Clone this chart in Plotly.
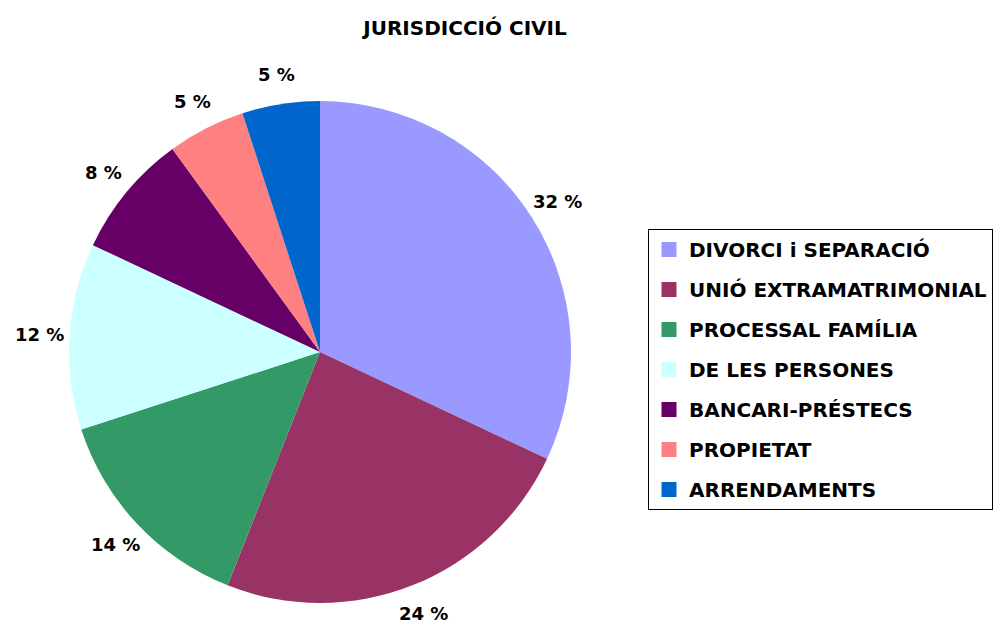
import math
import plotly.graph_objects as go

categories = ["DIVORCI i SEPARACIÓ", "UNIÓ EXTRAMATRIMONIAL", "PROCESSAL FAMÍLIA",
              "DE LES PERSONES", "BANCARI-PRÉSTECS", "PROPIETAT", "ARRENDAMENTS"]
values = [32, 24, 14, 12, 8, 5, 5]
colors = ["#9999FF", "#993366", "#339966", "#CCFFFF", "#660066", "#FF8080", "#0066CC"]
title_text = "JURISDICCIÓ CIVIL"

# the page shows the figure with an 8px body margin, so work in figure pixels
OFF = 8
W, H = 1005 - OFF, 626 - OFF
FONT = "DejaVu Sans"
LEG_SIZE = 20


def fx(px):
    return (px - OFF) / W


def fy(py):
    return 1 - (py - OFF) / H


fig = go.Figure()
fig.add_trace(go.Pie(
    labels=categories, values=values, sort=False, direction="clockwise", rotation=0,
    marker=dict(colors=colors, line=dict(width=0)),
    textinfo="none", hoverinfo="label+percent", showlegend=False,
    domain=dict(x=[fx(68), fx(572)], y=[fy(603), fy(101)]),
))

# legend entries (one group per category so the item spacing can be set)
for name, col in zip(categories, colors):
    fig.add_trace(go.Scatter(
        x=[None], y=[None], mode="markers", name=name, legendgroup=name,
        marker=dict(symbol="square", size=15, color=col), showlegend=True,
    ))

# percentage labels placed around the pie from the cumulative values
cx, cy, rl = 320, 352, 281
total = sum(values)
cum = 0
annotations = []
for v in values:
    mid = (cum + v / 2) / total * 2 * math.pi
    cum += v
    px = cx + rl * math.sin(mid)
    py = cy - rl * math.cos(mid)
    annotations.append(dict(
        x=fx(px), y=fy(py), xref="paper", yref="paper",
        text=f"<b>{round(v / total * 100)} %</b>", showarrow=False,
        font=dict(family=FONT, size=18, color="black"),
        xanchor="center", yanchor="middle",
    ))

fig.update_layout(
    width=W, height=H,
    margin=dict(l=0, r=0, t=0, b=0, autoexpand=False),
    paper_bgcolor="white", plot_bgcolor="white",
    title=dict(text=f"<b>{title_text}</b>", x=fx(465), xanchor="center",
               y=fy(28), yanchor="middle",
               font=dict(family=FONT, size=20, color="black")),
    xaxis=dict(visible=False), yaxis=dict(visible=False),
    legend=dict(x=fx(648), xanchor="left", y=fy(229), yanchor="top",
                bordercolor="black", borderwidth=1, bgcolor="white",
                font=dict(family=FONT, size=LEG_SIZE, color="black", weight="bold"),
                tracegroupgap=40 - (LEG_SIZE * 1.3 + 3), itemsizing="trace"),
    annotations=annotations,
)

fig.write_html("out.html")
